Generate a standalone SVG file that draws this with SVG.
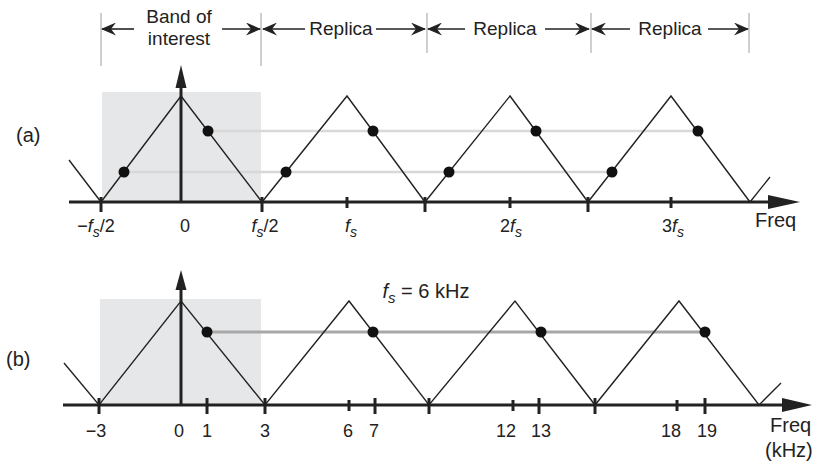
<svg xmlns="http://www.w3.org/2000/svg" width="815" height="462" viewBox="0 0 815 462">
<style>
text{font-family:"Liberation Sans",Arial,sans-serif;fill:#222;}
.lbl{font-size:20px;}
.hd{font-size:19px;}
.num{font-size:18px;text-anchor:middle;}
.it{font-style:italic;}
.tri{fill:none;stroke:#222;stroke-width:1.4;stroke-linejoin:miter;}
.axis{stroke:#222;stroke-width:3;fill:none;}
.tick{stroke:#222;stroke-width:3;}
.bnd{stroke:#b0b0b0;stroke-width:1.2;}
.dim{stroke:#222;stroke-width:1.6;fill:none;marker-end:url(#ah);}
.dot{fill:#111;}
.shade{fill:#e6e7e8;}
</style>
<defs>
<marker id="ah" viewBox="0 0 15 13" refX="14" refY="6.5" markerWidth="15" markerHeight="13" markerUnits="userSpaceOnUse" orient="auto">
<path d="M0,0 L15,6.5 L0,13 L5,6.5 z" fill="#222"/>
</marker>
</defs>

<!-- Header dimension labels -->
<g id="header">
<line class="bnd" x1="101" y1="13" x2="101" y2="66"/>
<line class="bnd" x1="261" y1="13" x2="261" y2="66"/>
<line class="bnd" x1="427" y1="13" x2="427" y2="53"/>
<line class="bnd" x1="591" y1="13" x2="591" y2="53"/>
<line class="bnd" x1="749" y1="13" x2="749" y2="53"/>
<line class="dim" x1="134" y1="29" x2="102" y2="29"/>
<line class="dim" x1="222" y1="29" x2="260" y2="29"/>
<text class="hd" x="179" y="23" text-anchor="middle">Band of</text>
<text class="hd" x="179" y="45" text-anchor="middle">interest</text>
<line class="dim" x1="305" y1="29" x2="263" y2="29"/>
<line class="dim" x1="376" y1="29" x2="425" y2="29"/>
<text class="hd" x="341" y="35" text-anchor="middle">Replica</text>
<line class="dim" x1="465" y1="29" x2="428" y2="29"/>
<line class="dim" x1="545" y1="29" x2="589" y2="29"/>
<text class="hd" x="505" y="35" text-anchor="middle">Replica</text>
<line class="dim" x1="630" y1="29" x2="592" y2="29"/>
<line class="dim" x1="708" y1="29" x2="748" y2="29"/>
<text class="hd" x="670" y="35" text-anchor="middle">Replica</text>
</g>

<!-- Panel (a) -->
<g id="panel-a">
<rect class="shade" x="102" y="92" width="159" height="110"/>
<line x1="124" y1="172" x2="612" y2="172" stroke="#d8d8d8" stroke-width="2.5"/>
<line x1="208" y1="131" x2="697" y2="131" stroke="#d8d8d8" stroke-width="2.5"/>
<polyline class="tri" points="69,160 101,202 181,96 262,202 347,96 425,202 510,96 588,202 671,96 750,202 770,177"/>
<line class="axis" x1="69" y1="202" x2="770" y2="202"/>
<polygon points="768,195 800,202 768,209" fill="#222"/>
<line class="axis" x1="181" y1="202" x2="181" y2="86"/>
<polygon points="175.5,88 186.5,88 181,65" fill="#222"/>
<line class="tick" x1="101" y1="197" x2="101" y2="212"/>
<line class="tick" x1="262" y1="197" x2="262" y2="212"/>
<line class="tick" x1="347" y1="197" x2="347" y2="208"/>
<line class="tick" x1="425" y1="197" x2="425" y2="212"/>
<line class="tick" x1="510" y1="197" x2="510" y2="208"/>
<line class="tick" x1="588" y1="197" x2="588" y2="212"/>
<line class="tick" x1="671" y1="197" x2="671" y2="208"/>
<circle class="dot" cx="124" cy="172" r="5.5"/>
<circle class="dot" cx="208" cy="131" r="5.5"/>
<circle class="dot" cx="286" cy="172" r="5.5"/>
<circle class="dot" cx="373" cy="131" r="5.5"/>
<circle class="dot" cx="449" cy="172" r="5.5"/>
<circle class="dot" cx="536" cy="131" r="5.5"/>
<circle class="dot" cx="612" cy="172" r="5.5"/>
<circle class="dot" cx="698" cy="131" r="5.5"/>
<text class="lbl" x="16" y="142">(a)</text>
<text class="num" x="96" y="232">−<tspan class="it">f</tspan><tspan class="it" font-size="14" dy="5">s</tspan><tspan dy="-5">/2</tspan></text>
<text class="num" x="185" y="232">0</text>
<text class="num" x="265" y="232"><tspan class="it">f</tspan><tspan class="it" font-size="14" dy="5">s</tspan><tspan dy="-5">/2</tspan></text>
<text class="num" x="351" y="232"><tspan class="it">f</tspan><tspan class="it" font-size="14" dy="5">s</tspan></text>
<text class="num" x="511" y="232">2<tspan class="it">f</tspan><tspan class="it" font-size="14" dy="5">s</tspan></text>
<text class="num" x="673" y="232">3<tspan class="it">f</tspan><tspan class="it" font-size="14" dy="5">s</tspan></text>
<text class="lbl" x="755" y="227">Freq</text>
</g>

<!-- Panel (b) -->
<g id="panel-b">
<rect class="shade" x="100" y="299" width="161" height="106"/>
<line x1="207" y1="332" x2="704" y2="332" stroke="#a8a8a8" stroke-width="3"/>
<polyline class="tri" points="64,363 99,405 181,301 265,405 349,301 429,405 515,301 595,405 679,301 759,405 781,383"/>
<line class="axis" x1="63" y1="405" x2="785" y2="405"/>
<polygon points="782,398 812,405 782,412" fill="#222"/>
<line class="axis" x1="181" y1="405" x2="181" y2="288"/>
<polygon points="175.5,290 186.5,290 181,270" fill="#222"/>
<line class="tick" x1="99" y1="398" x2="99" y2="414"/>
<line class="tick" x1="207" y1="398" x2="207" y2="414"/>
<line class="tick" x1="265" y1="398" x2="265" y2="414"/>
<line class="tick" x1="349" y1="400" x2="349" y2="411"/>
<line class="tick" x1="375" y1="398" x2="375" y2="414"/>
<line class="tick" x1="429" y1="398" x2="429" y2="414"/>
<line class="tick" x1="513" y1="400" x2="513" y2="411"/>
<line class="tick" x1="539" y1="398" x2="539" y2="414"/>
<line class="tick" x1="595" y1="398" x2="595" y2="414"/>
<line class="tick" x1="677" y1="400" x2="677" y2="411"/>
<line class="tick" x1="705" y1="398" x2="705" y2="414"/>
<circle class="dot" cx="207" cy="332" r="5.5"/>
<circle class="dot" cx="373" cy="332" r="5.5"/>
<circle class="dot" cx="541" cy="332" r="5.5"/>
<circle class="dot" cx="705" cy="332" r="5.5"/>
<text class="lbl" x="426" y="298" text-anchor="middle"><tspan class="it">f</tspan><tspan class="it" font-size="15" dy="5">s</tspan><tspan dy="-5"> = 6 kHz</tspan></text>
<text class="lbl" x="6" y="366">(b)</text>
<text class="num" x="96" y="437">−3</text>
<text class="num" x="179" y="437">0</text>
<text class="num" x="207" y="437">1</text>
<text class="num" x="265" y="437">3</text>
<text class="num" x="348" y="437">6</text>
<text class="num" x="374" y="437">7</text>
<text class="num" x="506" y="437">12</text>
<text class="num" x="541" y="437">13</text>
<text class="num" x="671" y="437">18</text>
<text class="num" x="707" y="437">19</text>
<text class="lbl" x="770" y="432">Freq</text>
<text class="lbl" x="765" y="457">(kHz)</text>
</g>
</svg>
